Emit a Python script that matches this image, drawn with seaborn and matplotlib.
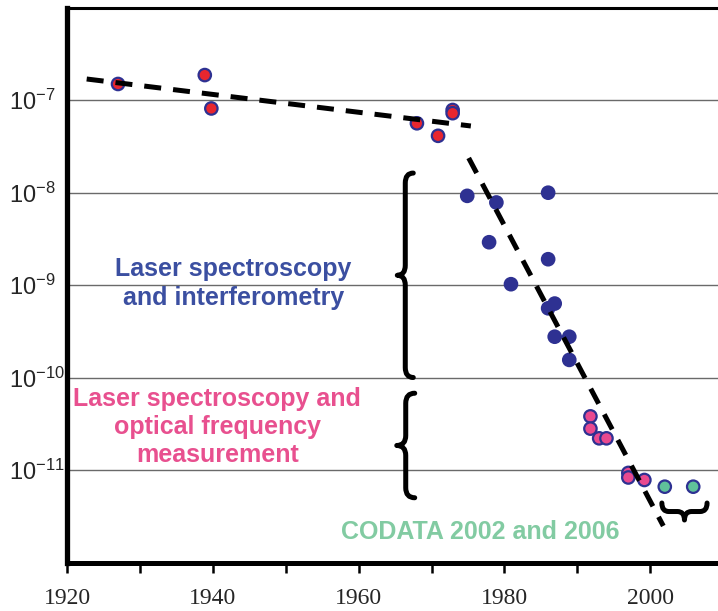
import matplotlib
matplotlib.use("Agg")
import matplotlib.pyplot as plt
import numpy as np
import pandas as pd
import seaborn as sns
from matplotlib.path import Path
from matplotlib.patches import PathPatch
from matplotlib.transforms import Affine2D
from matplotlib.ticker import FixedLocator, FuncFormatter

# relative uncertainty of the Rydberg constant
early_years = [1927.0, 1938.9, 1939.8, 1968.0, 1970.9, 1972.9, 1972.9]
early_values = [1.49e-7, 1.86e-7, 8.1e-8, 5.6e-8, 4.1e-8, 7.8e-8, 7.2e-8]
interf_years = [1974.9, 1978.9, 1977.9, 1980.9, 1986.0, 1986.0, 1986.0, 1986.9, 1986.9, 1988.9, 1988.9]
interf_values = [9.2e-9, 7.8e-9, 2.9e-9, 1.02e-9, 9.95e-9, 1.9e-9, 5.6e-10, 6.3e-10, 2.76e-10, 2.76e-10, 1.55e-10]
optical_years = [1991.8, 1991.8, 1993.0, 1994.0, 1997.0, 1997.0, 1999.2]
optical_values = [3.8e-11, 2.8e-11, 2.2e-11, 2.2e-11, 9.3e-12, 8.3e-12, 7.8e-12]
codata_years = [2002.0, 2005.9]
codata_values = [6.6e-12, 6.6e-12]

# dashed trend lines (end points)
trend_early_years = [1922.7, 1975.4]
trend_early_values = [10 ** -6.773, 10 ** -7.281]
trend_laser_years = [1975.1, 2001.8]
trend_laser_values = [10 ** -7.627, 10 ** -11.605]

x_ticks = [1920, 1940, 1960, 1980, 2000]
y_ticks = [1e-11, 1e-10, 1e-9, 1e-8, 1e-7]
XLIM = (1920, 2009.3)
YLIM = (1e-12, 1e-6)

BLUE = "#2e3192"
colors = {"early": "#e8262f", "interf": BLUE, "optical": "#e9498f", "codata": "#5fc19a"}

df = pd.concat([
    pd.DataFrame({"year": early_years, "value": early_values, "method": "early"}),
    pd.DataFrame({"year": interf_years, "value": interf_values, "method": "interf"}),
    pd.DataFrame({"year": optical_years, "value": optical_values, "method": "optical"}),
    pd.DataFrame({"year": codata_years, "value": codata_values, "method": "codata"}),
], ignore_index=True)

sns.set_style("white")
plt.rcParams["font.family"] = ["Liberation Sans", "DejaVu Sans"]
plt.rcParams["mathtext.fontset"] = "custom"
plt.rcParams["mathtext.rm"] = "Liberation Serif"
plt.rcParams["mathtext.it"] = "Liberation Serif:italic"

fig = plt.figure(figsize=(7.18, 6.11), dpi=100)
ax = fig.add_axes([67 / 718, 48.5 / 611, 651 / 718, 555 / 611])
ax.set_yscale("log")

sns.scatterplot(data=df, x="year", y="value", hue="method", palette=colors,
                s=80, edgecolor=BLUE, linewidth=1.6, legend=False, ax=ax, zorder=3)

for xs, ys in [(trend_early_years, trend_early_values), (trend_laser_years, trend_laser_values)]:
    ax.plot(xs, ys, color="black", lw=3.6, dashes=(3.4, 2.4), zorder=4)

ax.set_xlim(*XLIM)
ax.set_ylim(*YLIM)
ax.set_xlabel("")
ax.set_ylabel("")

ax.xaxis.set_major_locator(FixedLocator(x_ticks))
ax.xaxis.set_minor_locator(FixedLocator(np.arange(1930, 2010, 20)))
ax.yaxis.set_major_locator(FixedLocator(y_ticks))
ax.yaxis.set_minor_locator(FixedLocator([]))
ax.yaxis.set_major_formatter(FuncFormatter(lambda v, _: r"$\mathregular{10^{%d}}$" % round(np.log10(v))))
ax.tick_params(axis="x", which="both", direction="out", length=7.5, width=1.8,
               color="black", bottom=True, labelsize=17, pad=11)
ax.tick_params(axis="y", length=0, labelsize=17, pad=42)
for lab in ax.get_xticklabels():
    lab.set_family("Liberation Serif")
for lab in ax.get_yticklabels():
    lab.set_horizontalalignment("left")
ax.grid(axis="y", color="#6a6a6a", lw=1.0)
ax.grid(axis="x", visible=False)

ax.spines["left"].set_linewidth(3.8)
ax.spines["bottom"].set_linewidth(3.6)
ax.spines["top"].set_linewidth(2.2)
ax.spines["right"].set_visible(False)
for side in ("left", "bottom", "top"):
    ax.spines[side].set_color("black")
    ax.spines[side].set_zorder(5)

# curly braces, drawn in axes pixel units
W, H = 651.0, 555.0


def to_px(year, value):
    px = (year - XLIM[0]) / (XLIM[1] - XLIM[0]) * W
    py = (np.log10(value) - np.log10(YLIM[0])) / (np.log10(YLIM[1]) - np.log10(YLIM[0])) * H
    return px, py


def brace(ax, start, end, depth, r, vertical):
    (x0, y0), (x1, y1) = to_px(*start), to_px(*end)
    if vertical:
        base, a, b = x0, y0, y1
    else:
        base, a, b = y0, x0, x1
    L = b - a
    h = depth / 2.0
    local = [(0, 0), (0, h), (r, h), (L / 2 - r, h), (L / 2, h), (L / 2, depth),
             (L / 2, h), (L / 2 + r, h), (L - r, h), (L, h), (L, 0)]
    codes = [Path.MOVETO, Path.CURVE3, Path.CURVE3, Path.LINETO, Path.CURVE3, Path.CURVE3,
             Path.CURVE3, Path.CURVE3, Path.LINETO, Path.CURVE3, Path.CURVE3]
    if vertical:
        verts = [(base - v, a + u) for u, v in local]
    else:
        verts = [(a + u, base - v) for u, v in local]
    patch = PathPatch(Path(verts, codes), facecolor="none", edgecolor="black", lw=3.6,
                      capstyle="round", joinstyle="round",
                      transform=Affine2D().scale(1 / W, 1 / H) + ax.transAxes, zorder=4)
    ax.add_patch(patch)


brace(ax, (1967.5, 10 ** -10.0), (1967.5, 10 ** -7.79), 16, 10, True)
brace(ax, (1967.7, 10 ** -11.30), (1967.7, 10 ** -10.17), 18, 10, True)
brace(ax, (2001.6, 10 ** -11.357), (2007.8, 10 ** -11.357), 17, 7, False)

ax.text(1942.8, 10 ** -8.984, "Laser spectroscopy\nand interferometry", color="#3b4fa1",
        fontsize=18, fontweight="bold", ha="center", va="center", linespacing=1.25)
ax.text(1940.6, 10 ** -10.535, "Laser spectroscopy and\noptical frequency\nmeasurement",
        color="#e8508f", fontsize=18, fontweight="bold", ha="center", va="center", linespacing=1.2)
ax.text(1976.7, 10 ** -11.67, "CODATA 2002 and 2006", color="#82cba2",
        fontsize=18, fontweight="bold", ha="center", va="center")

fig.savefig("out.png", dpi=100)
